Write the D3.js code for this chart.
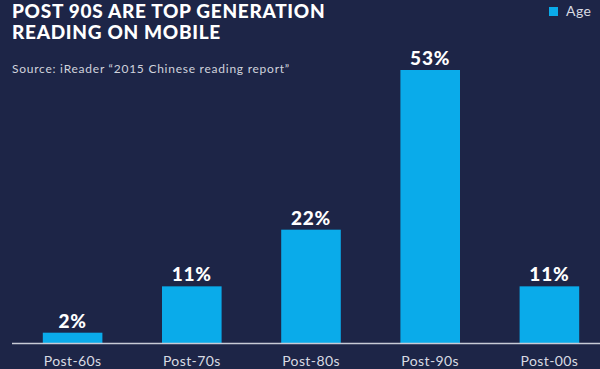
<!DOCTYPE html>
<html><head><meta charset="utf-8">
<script src="https://cdn.jsdelivr.net/npm/d3@7"></script>
<style>html,body{margin:0;padding:0;background:#1d2547;}svg{display:block;}</style>
</head><body>
<script>
const categories = ["Post-60s","Post-70s","Post-80s","Post-90s","Post-00s"];
const values = [2, 11, 22, 53, 11];
const seriesName = "Age";
const titleLines = ["POST 90S ARE TOP GENERATION","READING ON MOBILE"];
const sourceText = "Source: iReader \u201c2015 Chinese reading report\u201d";

const W = 600, H = 369;
const svg = d3.select("body").append("svg").attr("width", W).attr("height", H);
svg.append("rect").attr("width", W).attr("height", H).attr("fill", "#1d2547");

const x = d3.scaleBand().domain(categories).range([13, 609]).paddingInner(0.5).paddingOuter(0.25);
const y = d3.scaleLinear().domain([0, 53]).range([343, 70]);

svg.selectAll("rect.bar").data(values).join("rect").attr("class","bar")
  .attr("x", (d,i) => x(categories[i])).attr("width", x.bandwidth())
  .attr("y", d => y(d)).attr("height", d => y(0) - y(d)).attr("fill", "#0aabea");

svg.selectAll("text.val").data(values).join("text").attr("class","val")
  .attr("x", (d,i) => x(categories[i]) + x.bandwidth()/2)
  .attr("y", d => y(d) - 5)
  .attr("text-anchor","middle").attr("fill","#ffffff")
  .attr("font-family","Lato").attr("font-weight",900).attr("font-size",19)
  .attr("letter-spacing",0.8)
  .text(d => d + "%");

const axis = svg.append("g").attr("transform", `translate(0,${y(0)})`)
  .call(d3.axisBottom(x).tickSize(0).tickPadding(13));
axis.select(".domain").attr("stroke","#c8cbd6").attr("stroke-width",1.5).attr("d","M12,0.5H600");
axis.selectAll("text").attr("fill","#d8dae2").attr("font-family","Lato").attr("font-size",14)
  .attr("letter-spacing",0.4);

svg.selectAll("text.title").data(titleLines).join("text").attr("class","title")
  .attr("x", 12).attr("y", (d,i) => 17.5 + i*21.5)
  .attr("fill","#ffffff").attr("font-family","Lato").attr("font-weight",900).attr("font-size",19)
  .attr("letter-spacing",0.7)
  .text(d => d);

svg.append("text").attr("x",12).attr("y",73).attr("fill","#d0d3dd")
  .attr("font-family","Lato").attr("font-size",12).attr("letter-spacing",0.75).text(sourceText);

svg.append("rect").attr("x",549).attr("y",7).attr("width",9).attr("height",9).attr("fill","#0aabea");
svg.append("text").attr("x",566).attr("y",16).attr("fill","#d8dae2")
  .attr("font-family","Lato").attr("font-size",14).attr("letter-spacing",0.4).text(seriesName);
</script>
</body></html>
